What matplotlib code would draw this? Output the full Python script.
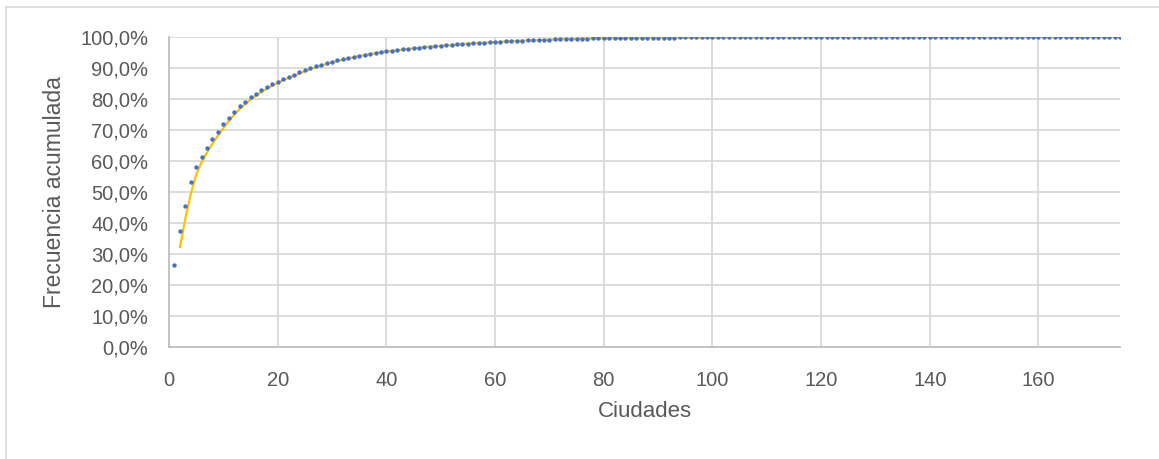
import matplotlib
matplotlib.use("Agg")
import matplotlib.pyplot as plt
from matplotlib.ticker import FuncFormatter
from matplotlib.lines import Line2D
import numpy as np
import pandas as pd

# Cumulative frequency (%) per city rank 1..175
ciudades = list(range(1, 176))
frecuencia_acumulada = [
    26.4, 37.4, 45.4, 53.2, 58.0, 61.3, 64.2, 67.0, 69.4, 71.8,
    74.0, 75.9, 77.6, 79.1, 80.5, 81.7, 82.8, 83.9, 84.7, 85.6,
    86.5, 87.2, 87.8, 88.6, 89.3, 89.9, 90.5, 91.1, 91.6, 92.0,
    92.5, 92.9, 93.3, 93.7, 94.0, 94.3, 94.6, 94.9, 95.2, 95.4,
    95.6, 95.8, 96.0, 96.2, 96.4, 96.6, 96.8, 96.9, 97.1, 97.2,
    97.4, 97.5, 97.6, 97.8, 97.9, 98.0, 98.1, 98.2, 98.3, 98.4,
    98.5, 98.6, 98.7, 98.8, 98.85, 98.9, 99.0, 99.05, 99.1, 99.15,
    99.2, 99.25, 99.3, 99.35, 99.4, 99.45, 99.5, 99.52, 99.55, 99.58,
    99.6, 99.62, 99.65, 99.67, 99.7, 99.72, 99.74, 99.76, 99.78, 99.8,
    99.81, 99.82, 99.83, 99.84, 99.85, 99.86, 99.87, 99.88, 99.89, 99.9,
    99.91, 99.92, 99.93, 99.94, 99.95, 99.96, 99.97, 99.97, 99.98, 99.98,
    99.99, 99.99, 99.99, 100.0, 100.0, 100.0, 100.0, 100.0, 100.0, 100.0,
    100.0, 100.0, 100.0, 100.0, 100.0, 100.0, 100.0, 100.0, 100.0, 100.0,
    100.0, 100.0, 100.0, 100.0, 100.0, 100.0, 100.0, 100.0, 100.0, 100.0,
    100.0, 100.0, 100.0, 100.0, 100.0, 100.0, 100.0, 100.0, 100.0, 100.0,
    100.0, 100.0, 100.0, 100.0, 100.0, 100.0, 100.0, 100.0, 100.0, 100.0,
    100.0, 100.0, 100.0, 100.0, 100.0, 100.0, 100.0, 100.0, 100.0, 100.0,
    100.0, 100.0, 100.0, 100.0, 100.0,
]
x_ticks = [0, 20, 40, 60, 80, 100, 120, 140, 160]
y_ticks = [0, 10, 20, 30, 40, 50, 60, 70, 80, 90, 100]

plt.rcParams['font.family'] = ['Liberation Sans', 'DejaVu Sans']
text_color = '#595959'
grid_color = '#D9D9D9'

fig = plt.figure(figsize=(11.59, 4.59), dpi=100)
ax = fig.add_axes([169/1159, 1-347/459, (1120-169)/1159, (347-37)/459])

y = np.array(frecuencia_acumulada) / 100.0
# Moving-average (period 2) trendline
trend = pd.Series(y).rolling(2).mean()

ax.plot(ciudades, trend, color='#FFC000', lw=1.6, zorder=3, solid_capstyle='butt')
ax.scatter(ciudades, y, s=10, color='#4472C4', zorder=4, linewidths=0)

ax.set_xlim(0, 175)
ax.set_ylim(0, 1.0)
ax.set_xticks(x_ticks)
ax.set_yticks([v/100 for v in y_ticks])
ax.yaxis.set_major_formatter(FuncFormatter(lambda v, p: f"{v*100:.1f}%".replace('.', ',')))
ax.grid(True, color=grid_color, lw=1.3)
ax.set_axisbelow(True)
for s in ['top', 'right']:
    ax.spines[s].set_visible(False)
for s in ['left', 'bottom']:
    ax.spines[s].set_color('#BFBFBF')
    ax.spines[s].set_linewidth(1.3)
ax.tick_params(length=0, labelsize=14.5, colors=text_color)
ax.tick_params(axis='y', pad=15)
ax.tick_params(axis='x', pad=17)
ax.set_xlabel('Ciudades', fontsize=16, color=text_color, labelpad=8)
ax.set_ylabel('Frecuencia acumulada', fontsize=16.5, color=text_color, labelpad=10)

# chart border
fig.add_artist(Line2D([6/1159, 6/1159], [0, 1-7/459], transform=fig.transFigure, color='#D9D9D9', lw=1.2))
fig.add_artist(Line2D([6/1159, 1], [1-7/459, 1-7/459], transform=fig.transFigure, color='#D9D9D9', lw=1.2))

fig.savefig('out.png', dpi=100)
